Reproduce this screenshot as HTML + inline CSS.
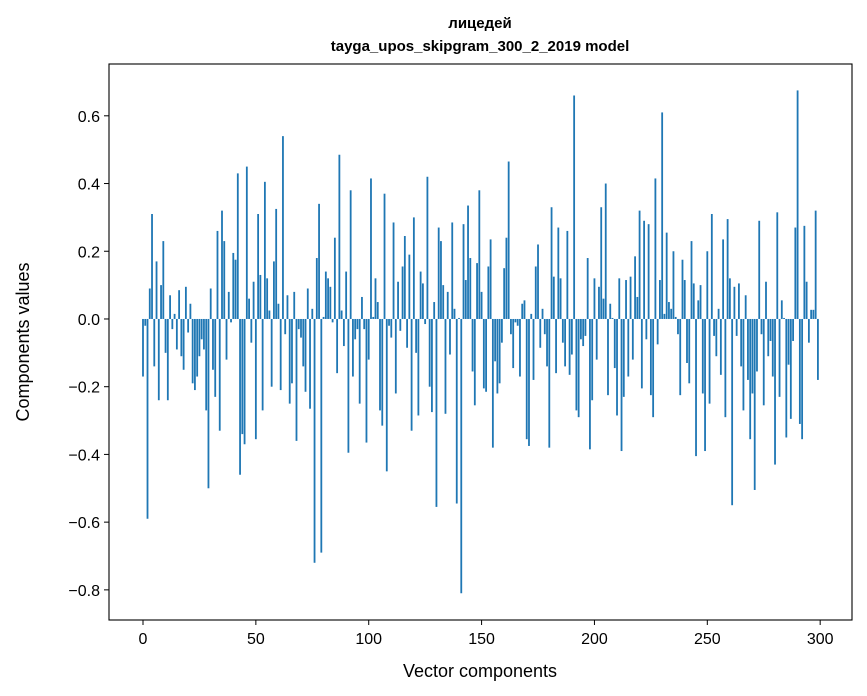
<!DOCTYPE html>
<html><head><meta charset="utf-8"><style>
body{margin:0;background:#fff;}
svg{display:block;font-family:"Liberation Sans","DejaVu Sans",sans-serif;}
</style></head><body>
<svg id="chart" width="867" height="696" viewBox="0 0 867 696" xmlns="http://www.w3.org/2000/svg">
<rect width="867" height="696" fill="#fff"/>
<text x="480" y="28" text-anchor="middle" font-size="15" font-weight="bold">лицедей</text>
<text x="480" y="51" text-anchor="middle" font-size="15" font-weight="bold">tayga_upos_skipgram_300_2_2019 model</text>
<g id="bars"></g>
<g id="axes"></g>
<rect x="109" y="64" width="743" height="556" fill="none" stroke="#000" stroke-width="1.1"/>
<text x="480" y="677" text-anchor="middle" font-size="18">Vector components</text>
<text transform="translate(29,342) rotate(-90)" text-anchor="middle" font-size="18">Components values</text>
</svg>
<script>
const values = [
-0.17,-0.02,-0.59,0.09,0.31,-0.14,0.17,-0.24,0.10,0.23,
-0.10,-0.24,0.07,-0.03,0.015,-0.09,0.085,-0.11,-0.15,0.095,
-0.04,0.045,-0.19,-0.21,-0.17,-0.11,-0.06,-0.09,-0.27,-0.50,
0.09,-0.15,-0.23,0.26,-0.33,0.32,0.23,-0.12,0.08,-0.01,
0.195,0.175,0.43,-0.46,-0.34,-0.37,0.45,0.06,-0.07,0.11,
-0.355,0.31,0.13,-0.27,0.405,0.12,0.025,-0.20,0.17,0.325,
0.045,-0.21,0.54,-0.045,0.07,-0.25,-0.19,0.08,-0.36,-0.03,
-0.055,-0.14,-0.215,0.09,-0.265,0.03,-0.72,0.18,0.34,-0.69,
0.006,0.14,0.12,0.095,-0.01,0.24,-0.16,0.485,0.025,-0.08,
0.14,-0.395,0.38,-0.17,-0.06,-0.03,-0.25,0.065,-0.03,-0.365,
-0.12,0.415,0.006,0.12,0.05,-0.27,-0.315,0.37,-0.45,-0.02,
-0.055,0.285,-0.22,0.11,-0.035,0.155,0.245,-0.085,0.19,-0.33,
0.30,-0.10,-0.285,0.14,0.105,-0.015,0.42,-0.20,-0.275,0.05,
-0.555,0.27,0.23,0.10,-0.28,0.08,-0.105,0.285,0.03,-0.545,
0.003,-0.81,0.28,0.115,0.335,0.18,-0.155,-0.255,0.165,0.38,
0.08,-0.205,-0.215,0.155,0.235,-0.38,-0.125,-0.22,-0.19,-0.07,
0.15,0.24,0.465,-0.045,-0.145,-0.01,-0.02,-0.17,0.045,0.055,
-0.355,-0.375,0.015,-0.18,0.155,0.22,-0.085,0.03,-0.045,-0.14,
-0.38,0.33,0.125,-0.16,0.27,0.12,-0.07,-0.14,0.26,-0.165,
-0.105,0.66,-0.27,-0.29,-0.06,-0.08,-0.05,0.18,-0.385,-0.24,
0.12,-0.12,0.095,0.33,0.06,0.40,-0.225,0.045,0.003,-0.145,
-0.285,0.12,-0.39,-0.23,0.115,-0.17,0.125,-0.12,0.185,0.065,
0.32,-0.205,0.29,-0.06,0.28,-0.225,-0.29,0.415,-0.075,0.115,
0.61,0.015,0.255,0.05,0.03,0.20,0.006,-0.045,-0.225,0.175,
0.115,-0.13,-0.19,0.23,0.105,-0.405,0.055,0.10,-0.22,-0.39,
0.20,-0.25,0.31,-0.05,-0.11,0.03,-0.165,0.235,-0.29,0.295,
0.12,-0.55,0.095,-0.05,0.105,-0.14,-0.27,0.07,-0.18,-0.355,
-0.22,-0.505,-0.155,0.29,-0.045,-0.255,0.11,-0.11,-0.065,-0.17,
-0.43,0.315,-0.23,0.055,0.003,-0.35,-0.135,-0.295,-0.065,0.27,
0.675,-0.31,-0.355,0.275,0.11,-0.07,0.027,0.027,0.32,-0.18
];
const xTicks = [0,50,100,150,200,250,300];
const yTicks = [-0.8,-0.6,-0.4,-0.2,0.0,0.2,0.4,0.6];
const yTickLabels = ["\u22120.8","\u22120.6","\u22120.4","\u22120.2","0.0","0.2","0.4","0.6"];

const NS='http://www.w3.org/2000/svg';
const L=109,R=852,T=64,B=620;
const xMin=-15.06,xMax=314.1,yMin=-0.889,yMax=0.753;
const xs=v=>L+(v-xMin)/(xMax-xMin)*(R-L);
const ys=v=>B-(v-yMin)/(yMax-yMin)*(B-T);
const bars=document.getElementById('bars');
const bw=(xs(0.8)-xs(0));
values.forEach((v,i)=>{
  const r=document.createElementNS(NS,'rect');
  const y0=ys(0),y1=ys(v);
  r.setAttribute('x',xs(i)-bw/2);
  r.setAttribute('y',Math.min(y0,y1));
  r.setAttribute('width',bw);
  r.setAttribute('height',Math.max(Math.abs(y1-y0),0.3));
  r.setAttribute('fill','#1f77b4');
  
  
  bars.appendChild(r);
});
const axes=document.getElementById('axes');
xTicks.forEach(t=>{
  const x=xs(t);
  const l=document.createElementNS(NS,'line');
  l.setAttribute('x1',x);l.setAttribute('x2',x);l.setAttribute('y1',B);l.setAttribute('y2',B+5);
  l.setAttribute('stroke','#000');
  
  
  axes.appendChild(l);
  const tx=document.createElementNS(NS,'text');
  tx.setAttribute('x',x);tx.setAttribute('y',B+24);tx.setAttribute('text-anchor','middle');tx.setAttribute('font-size','16');
  tx.textContent=t;
  
  
  axes.appendChild(tx);
});
yTicks.forEach((t,i)=>{
  const y=ys(t);
  const l=document.createElementNS(NS,'line');
  l.setAttribute('x1',L-5);l.setAttribute('x2',L);l.setAttribute('y1',y);l.setAttribute('y2',y);
  l.setAttribute('stroke','#000');
  
  
  axes.appendChild(l);
  const tx=document.createElementNS(NS,'text');
  tx.setAttribute('x',L-9);tx.setAttribute('y',y+6);tx.setAttribute('text-anchor','end');tx.setAttribute('font-size','16');
  tx.textContent=yTickLabels[i];
  
  
  axes.appendChild(tx);
});
</script>
</body></html>
